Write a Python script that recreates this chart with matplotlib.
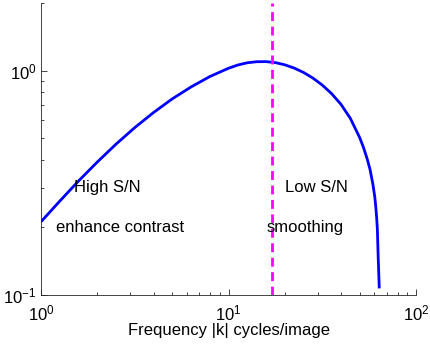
import numpy as np
import matplotlib
matplotlib.use("Agg")
from matplotlib import pyplot as plt

# filter gain vs spatial frequency
freq = [1.0, 1.259, 1.585, 1.995, 2.512, 3.162, 3.981, 5.012, 6.310, 7.943,
        10.0, 11.22, 12.59, 14.13, 15.85, 17.78, 19.95, 22.39, 25.12, 28.18,
        31.62, 35.48, 39.81, 44.67, 50.12, 52.48, 54.95, 56.89, 58.88, 60.26,
        60.95, 61.66, 62.23, 62.81, 63.25, 63.7]
gain = [0.212, 0.262, 0.322, 0.391, 0.470, 0.557, 0.650, 0.748, 0.845, 0.940,
        1.024, 1.059, 1.083, 1.095, 1.096, 1.085, 1.061, 1.026, 0.981, 0.926,
        0.862, 0.789, 0.707, 0.612, 0.502, 0.454, 0.403, 0.362, 0.312, 0.274,
        0.250, 0.222, 0.196, 0.150, 0.127, 0.107]
k_cut = 17.0

plt.rcParams["font.family"] = ["Liberation Sans", "DejaVu Sans"]
plt.rcParams["mathtext.fontset"] = "custom"
plt.rcParams["mathtext.rm"] = "Liberation Sans"
plt.rcParams["mathtext.it"] = "Liberation Sans"

fig = plt.figure(figsize=(4.30, 3.46), dpi=100)
ax = fig.add_axes([41/430, 51/346, 375/430, 292/346])

ax.loglog(freq, gain, color="#0000ff", lw=2.0, solid_capstyle="butt")
ax.plot([k_cut, k_cut], [0.1, 2.0], color="#ff00ff", lw=2.0, ls=(0, (3.2, 2.0)))

ax.set_xlim(1, 100)
ax.set_ylim(0.1, 2.0)

ax.text(1.5, 0.3, "High S/N", fontsize=12, va="center")
ax.text(1.2, 0.2, "enhance contrast", fontsize=12, va="center")
ax.text(20, 0.3, "Low S/N", fontsize=12, va="center")
ax.text(16, 0.2, "smoothing", fontsize=12, va="center")

ax.set_xlabel("Frequency |k| cycles/image", fontsize=12, labelpad=0)

for s in ["top", "right"]:
    ax.spines[s].set_visible(False)
for s in ["left", "bottom"]:
    ax.spines[s].set_linewidth(0.6)
    ax.spines[s].set_color("#262626")
ax.tick_params(which="both", direction="in", labelsize=12, color="#262626", width=0.6)
ax.tick_params(which="major", length=4)
ax.tick_params(which="minor", length=2.5)
ax.tick_params(axis="x", pad=6)
ax.tick_params(axis="y", pad=3)

fig.savefig("out.png", dpi=100)
